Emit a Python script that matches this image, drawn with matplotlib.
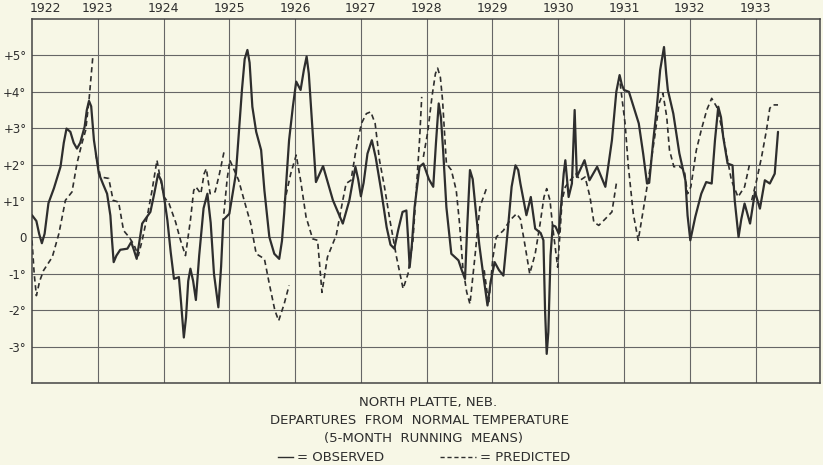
import numpy as np
import matplotlib
matplotlib.use('Agg')
import matplotlib.pyplot as plt
from matplotlib.lines import Line2D

# months since Jan 1922 / departure in degrees
obs_m = [0, 0.8, 1.3, 1.8, 2.3, 3.0, 4.0, 5.2, 5.8, 6.3, 7.0, 7.6, 8.2, 8.8, 9.6, 10.0, 10.4, 10.8,
         11.3, 12.2, 13.0, 13.7, 14.3, 14.6, 14.9, 15.4, 16.1, 17.4, 18.1, 18.6, 19.1, 19.6, 20.1,
         21.6, 22.3, 23.0, 23.6, 24.2, 24.7, 25.3, 25.9, 26.8, 27.2, 27.7, 28.1, 28.5, 28.9, 29.4,
         29.9, 30.5, 31.3, 32.0, 32.6, 33.2, 34.0, 34.5, 34.9, 35.1, 36.0, 37.2, 37.8, 38.3, 38.8,
         39.3, 39.7, 40.2, 40.9, 41.8, 42.4, 43.3, 44.2, 45.1, 45.6, 46.0, 46.9, 47.6, 48.2, 49.0,
         49.6, 50.1, 50.5, 50.9, 51.8, 53.1, 54.9, 56.7, 57.9, 58.6, 59.0, 59.5, 60.0, 60.5, 61.2,
         62.0, 62.7, 63.7, 64.7, 65.4, 66.1, 66.8, 67.6, 68.3, 68.6, 68.9, 69.3, 69.8, 70.7, 71.4,
         72.4, 73.2, 73.7, 74.2, 74.6, 75.0, 75.6, 76.5, 77.8, 78.4, 79.0, 79.4, 79.9, 80.4, 80.9,
         81.6, 82.3, 83.1, 83.7, 84.4, 85.2, 86.0, 86.8, 87.5, 88.2, 88.7, 89.1, 90.2, 91.0, 91.8,
         92.8, 93.3, 93.6, 93.9, 94.2, 94.6, 95.0, 95.5, 96.1, 97.0, 97.3, 97.9, 98.5, 99.0, 99.4,
         100.8, 101.7, 103.1, 104.6, 105.8, 106.6, 107.2, 107.6, 108.0, 108.9, 110.7, 111.5, 112.2,
         112.6, 113.3, 114.0, 114.6, 115.3, 115.7, 116.0, 117.0, 118.1, 119.2, 119.6, 120.1, 121.0,
         122.1, 123.0, 124.0, 124.6, 125.2, 125.7, 126.1, 126.9, 127.8, 128.2, 128.9, 129.4, 130.0,
         131.0, 131.9, 132.8, 133.7, 134.6, 135.5, 136.1]
obs_v = [0.61, 0.45, 0.1, -0.16, 0.1, 0.94, 1.35, 1.94, 2.6, 2.99, 2.9, 2.6, 2.44, 2.6, 3.04, 3.5, 3.75, 3.6,
         2.67, 1.75, 1.45, 1.2, 0.6, -0.08, -0.68, -0.5, -0.34, -0.31, -0.13, -0.35, -0.59, -0.1, 0.38,
         0.7, 1.2, 1.74, 1.55, 1.0, 0.47, -0.4, -1.14, -1.09, -1.8, -2.75, -2.2, -1.2, -0.86, -1.2,
         -1.72, -0.5, 0.8, 1.2, 0.4, -1.0, -1.92, -0.8, 0.5, 0.51, 0.65, 1.75, 3.0, 4.05, 4.9,
         5.15, 4.8, 3.59, 2.9, 2.4, 1.29, 0.01, -0.45, -0.59, -0.1, 0.65, 2.67, 3.6, 4.28, 4.05,
         4.6, 4.97, 4.5, 3.59, 1.52, 1.96, 1.02, 0.38, 1.02, 1.6, 1.94, 1.6, 1.13, 1.5, 2.3,
         2.67, 2.2, 1.29, 0.28, -0.2, -0.31, 0.2, 0.7, 0.74, 0.0, -0.82, -0.2, 0.83, 1.94, 2.03,
         1.6, 1.39, 2.6, 3.68, 3.3, 2.4, 0.83, -0.45, -0.63, -0.9, -1.14, 0.3, 1.85, 1.6, 0.83,
         -0.2, -1.0, -1.87, -1.2, -0.68, -0.9, -1.05, 0.2, 1.39, 1.98, 1.85, 1.48, 0.61, 1.11, 0.24,
         0.12, -0.08, -2.0, -3.2, -2.6, -0.5, 0.33, 0.3, 0.1, 1.75, 2.12, 1.11, 1.48, 3.5, 1.66,
         2.12, 1.57, 1.94, 1.39, 2.67, 4.0, 4.46, 4.2, 4.05, 4.0, 3.13, 2.3, 1.48,
         1.5, 2.6, 3.59, 4.6, 5.23, 4.5, 4.05, 3.4, 2.31, 1.57, 0.6, -0.08, 0.56,
         1.2, 1.52, 1.48, 2.67, 3.59, 3.3, 2.76, 2.03, 1.98, 1.02, 0.01, 0.5, 0.93,
         0.38, 1.25, 0.79, 1.57, 1.48, 1.75, 2.9]

# predicted curve is drawn in separate pieces
pred_m = [
    [0.0, 0.4, 0.8, 1.4, 2.1, 3.7, 4.9, 6.1, 7.3, 8.2, 9.1, 9.8, 10.4, 11.1],
    [11.6, 12.5, 14.0, 14.8, 15.8, 16.7, 17.7, 18.6, 19.4, 20.1, 21.0, 21.9, 22.8, 23.3, 24.1,
     25.0, 26.2, 27.1, 28.0, 28.9, 29.5, 29.9, 30.8, 31.4, 31.8, 32.5, 33.4, 34.2, 35.1],
    [35.0, 35.6, 36.1, 37.7, 38.7, 39.9, 40.9, 42.4, 43.3, 44.3, 45.0, 46.0, 46.9],
    [46.0, 47.2, 48.2, 49.0, 50.0, 51.2, 52.1, 52.9, 53.9, 55.5, 56.7, 57.3, 58.2, 59.1, 60.1,
     61.0, 61.8, 62.6, 63.4, 64.3, 65.3, 66.5, 67.7, 68.6, 69.5, 70.1, 70.7, 71.1],
    [71.4, 72.2, 73.0, 73.6, 74.0, 74.5, 74.9, 75.6, 76.5, 77.4, 78.0, 78.6, 79.3, 79.9, 80.8,
     81.7, 82.9],
    [82.5, 83.3, 84.1, 84.7, 86.0, 87.2, 88.4, 89.1, 90.0, 90.8, 91.8, 92.7, 93.4, 93.9, 94.5,
     95.0, 95.6, 95.9, 96.4, 96.7, 97.3, 98.2, 99.2, 100.0, 100.9, 101.8, 102.5, 103.4, 104.6,
     105.8, 106.7],
    [107.3, 108.2, 108.8, 109.7, 110.6, 111.6, 112.8, 113.7, 114.4, 115.1, 115.8, 116.3, 117.1,
     118.1, 119.0, 119.6, 120.2, 121.2, 122.1, 123.1, 124.0, 124.9, 125.8, 126.8, 127.6, 128.8,
     130.0, 131.0],
    [131.3, 132.2, 133.1, 134.0, 134.6, 135.2, 136.1],
]
pred_v = [
    [-0.08, -1.0, -1.6, -1.2, -0.91, -0.54, 0.1, 1.02, 1.25, 2.03, 2.58, 2.95, 3.77, 4.97],
    [2.3, 1.66, 1.62, 1.02, 0.97, 0.19, 0.01, -0.2, -0.5, -0.08, 0.56, 1.29, 2.12, 1.7, 1.11,
     0.93, 0.42, -0.08, -0.5, 0.47, 1.29, 1.39, 1.2, 1.75, 1.89, 1.2, 1.25, 1.75, 2.4],
    [0.65, 1.6, 2.12, 1.57, 1.02, 0.38, -0.45, -0.59, -1.28, -2.0, -2.29, -1.83, -1.32],
    [0.93, 1.75, 2.26, 1.57, 0.56, -0.04, -0.08, -1.51, -0.54, 0.06, 1.02, 1.48, 1.57, 2.4, 3.13,
     3.4, 3.45, 3.13, 2.12, 1.39, 0.47, -0.54, -1.41, -1.0, -0.08, 1.29, 2.67, 3.86],
    [2.21, 2.9, 3.9, 4.5, 4.65, 4.4, 3.77, 2.03, 1.85, 1.29, 0.38, -0.82, -1.5, -1.83, -0.54,
     0.83, 1.34],
    [-0.9, -1.83, -0.54, 0.01, 0.19, 0.47, 0.65, 0.51, -0.27, -1.0, -0.45, 0.38, 1.11, 1.34, 1.02,
     0.28, -0.45, -0.82, 0.28, 1.02, 1.39, 1.57, 1.75, 1.57, 1.66, 1.11, 0.42, 0.33, 0.51,
     0.7, 1.57],
    [4.23, 3.13, 1.94, 0.65, -0.08, 0.83, 1.94, 2.86, 3.68, 3.96, 3.31, 2.4, 1.94,
     1.95, 1.85, 1.2, 1.39, 2.4, 2.95, 3.5, 3.82, 3.59, 3.04, 2.21, 1.57, 1.11,
     1.39, 2.07],
    [1.02, 1.57, 2.21, 2.95, 3.55, 3.64, 3.64],
]

years = list(range(1922, 1934))
yticks = [5, 4, 3, 2, 1, 0, -1, -2, -3]
ylabels = ['+5°', '+4°', '+3°', '+2°', '+1°', '0', '-1°', '-2°', '-3°']

bg = '#f7f7e6'
ink = '#2e2e2e'
W, H = 823, 465

fig = plt.figure(figsize=(W / 100, H / 100), dpi=100, facecolor=bg)
ax = fig.add_axes([32 / W, 1 - 383 / H, 788 / W, 364 / H], facecolor=bg)

ax.set_xlim(1922, 1933.98)
ax.set_ylim(-4, 6)

for yr in years[1:]:
    ax.axvline(yr, color='#666666', lw=0.8, zorder=1)
for v in range(-3, 6):
    ax.axhline(v, color='#666666', lw=0.8, zorder=1)

ax.plot(1922 + np.array(obs_m) / 12, obs_v, color=ink, lw=1.6,
        solid_joinstyle='round', solid_capstyle='round', zorder=3)
for ms, vs in zip(pred_m, pred_v):
    ax.plot(1922 + np.array(ms) / 12, vs, color=ink, lw=1.2, dashes=(3.2, 2.2), zorder=2)

ax.set_xticks([])
ax.set_yticks(yticks)
ax.set_yticklabels(ylabels, fontsize=8.5, color=ink)
ax.tick_params(axis='y', length=0, pad=4)
for s in ax.spines.values():
    s.set_color('#444444')
    s.set_linewidth(1.1)

# year labels along the top
for yr in years:
    xp = yr if yr > 1922 else 1922.2
    ax.text(xp, 6.28, str(yr), ha='center', va='center', fontsize=9, color=ink)

cap = dict(ha='center', va='center', fontsize=9.5, color=ink)
fig.text(428 / W, 1 - 402 / H, 'NORTH PLATTE, NEB.', **cap)
fig.text(420 / W, 1 - 420 / H, 'DEPARTURES  FROM  NORMAL TEMPERATURE', **cap)
fig.text(424 / W, 1 - 438 / H, '(5-MONTH  RUNNING  MEANS)', **cap)

ly = 1 - 457 / H
fig.add_artist(Line2D([278 / W, 293 / W], [ly, ly], color=ink, lw=1.0))
fig.text(297 / W, ly, '= OBSERVED', ha='left', va='center', fontsize=9.5, color=ink)
fig.add_artist(Line2D([440 / W, 476 / W], [ly, ly], color=ink, lw=1.0, dashes=(3, 2)))
fig.text(480 / W, ly, '= PREDICTED', ha='left', va='center', fontsize=9.5, color=ink)

fig.savefig('out.png', dpi=100, facecolor=bg)
